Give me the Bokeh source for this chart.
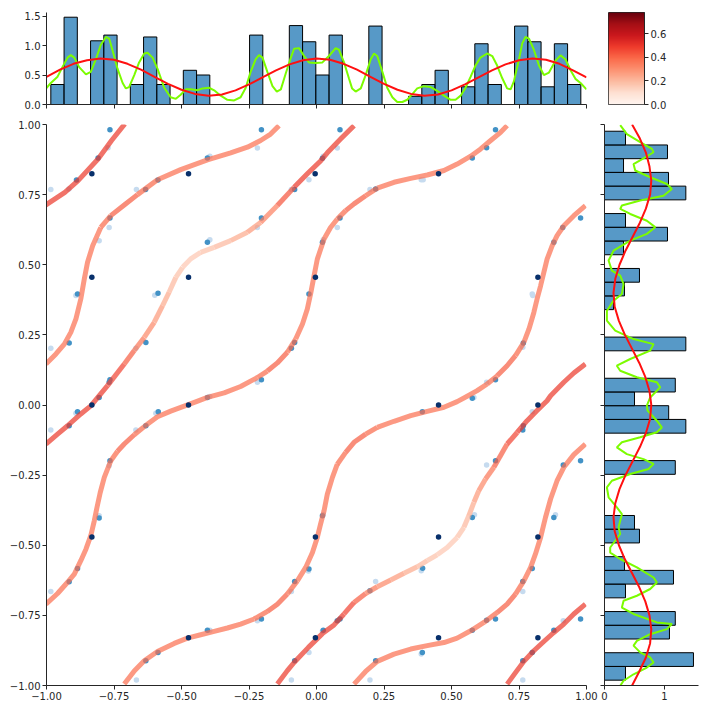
import numpy as np
from bokeh.plotting import figure
from bokeh.layouts import column, row
from bokeh.models import ColumnDataSource, LinearColorMapper, FixedTicker, CustomJSTickFormatter
from bokeh.palettes import Reds256
from bokeh.embed import file_html
from bokeh.resources import INLINE

# ---------------- data ----------------
# top marginal histogram (density), 40 bins between these limits
top_bin_lo, top_bin_hi = -0.984, 0.979
top_hist = [0.339, 1.48, 0, 1.08, 1.177, 0, 0.339, 1.145, 0.339, 0, 0.58, 0.5, 0, 0, 0, 1.177, 0, 0,
            1.338, 1.064, 0.5, 1.177, 0, 0, 1.33, 0, 0, 0.139, 0.339, 0.58, 0, 0.30, 1.03, 0.339, 0,
            1.33, 1.064, 0.30, 1.03, 0.339]
# right marginal histogram (density), bottom to top
right_bin_lo, right_bin_hi = -0.981, 0.976
right_hist = [0.35, 1.483, 0, 1.083, 1.18, 0, 0.35, 1.15, 0.333, 0, 0.583, 0.5, 0, 0, 0, 1.18, 0, 0,
              1.356, 1.07, 0.5, 1.18, 0, 0, 1.356, 0, 0, 0.15, 0.333, 0.583, 0, 0.317, 1.05, 0.35, 0,
              1.356, 1.067, 0.317, 1.05, 0.35]

# wide KDE (red)
red_pos = [-1.00, -0.95, -0.90, -0.85, -0.80, -0.75, -0.70, -0.65, -0.60, -0.55, -0.50, -0.45, -0.40,
           -0.35, -0.30, -0.25, -0.20, -0.15, -0.10, -0.05, 0.00, 0.05, 0.10, 0.15, 0.20, 0.25, 0.30,
           0.35, 0.40, 0.45, 0.50, 0.55, 0.60, 0.65, 0.70, 0.75, 0.80, 0.85, 0.90, 0.95, 1.00]
red_top = [0.47, 0.59, 0.69, 0.75, 0.78, 0.76, 0.69, 0.59, 0.47, 0.35, 0.25, 0.18, 0.15, 0.17, 0.24,
           0.34, 0.46, 0.58, 0.68, 0.75, 0.78, 0.76, 0.69, 0.59, 0.47, 0.35, 0.25, 0.18, 0.15, 0.17,
           0.24, 0.34, 0.46, 0.58, 0.68, 0.75, 0.78, 0.76, 0.69, 0.58, 0.46]
red_right = [0.46, 0.58, 0.69, 0.76, 0.78, 0.75, 0.68, 0.58, 0.46, 0.34, 0.24, 0.17, 0.15, 0.18, 0.25,
             0.35, 0.47, 0.59, 0.69, 0.76, 0.78, 0.75, 0.68, 0.58, 0.46, 0.34, 0.24, 0.17, 0.15, 0.18,
             0.25, 0.35, 0.47, 0.59, 0.69, 0.76, 0.78, 0.75, 0.69, 0.59, 0.46]

# narrow KDE (green), top marginal
green_top_x = [-1.001, -0.984, -0.959, -0.941, -0.922, -0.910, -0.897, -0.879, -0.854, -0.836, -0.817,
               -0.799, -0.780, -0.768, -0.756, -0.737, -0.718, -0.706, -0.694, -0.675, -0.657, -0.638,
               -0.626, -0.607, -0.589, -0.564, -0.540, -0.521, -0.503, -0.484, -0.466, -0.441, -0.422,
               -0.398, -0.379, -0.355, -0.330, -0.305, -0.281, -0.262, -0.244, -0.225, -0.213, -0.200,
               -0.182, -0.163, -0.147, -0.132, -0.114, -0.095, -0.083, -0.065, -0.046, -0.028, -0.003,
               0.022, 0.046, 0.071, 0.083, 0.102, 0.120, 0.132, 0.145, 0.164, 0.182, 0.201, 0.213,
               0.225, 0.244, 0.262, 0.281, 0.299, 0.318, 0.336, 0.355, 0.373, 0.398, 0.423, 0.447,
               0.472, 0.497, 0.515, 0.534, 0.552, 0.571, 0.589, 0.607, 0.632, 0.651, 0.669, 0.688,
               0.706, 0.719, 0.731, 0.750, 0.762, 0.774, 0.787, 0.805, 0.824, 0.842, 0.861, 0.885,
               0.904, 0.922, 0.941, 0.959, 0.978, 1.000]
green_top_v = [0.273, 0.365, 0.472, 0.634, 0.795, 0.838, 0.795, 0.634, 0.510, 0.553, 0.768,
               1.010, 1.145, 1.118, 0.929, 0.607, 0.365, 0.273, 0.295, 0.499, 0.714, 0.865,
               0.876, 0.795, 0.607, 0.284, 0.123, 0.096, 0.166, 0.257, 0.257, 0.241, 0.273,
               0.284, 0.241, 0.150, 0.080, 0.069, 0.123, 0.284, 0.553, 0.768, 0.838, 0.795,
               0.553, 0.311, 0.220, 0.257, 0.526, 0.795, 0.945, 0.956, 0.822, 0.714, 0.703,
               0.714, 0.822, 0.956, 0.929, 0.714, 0.445, 0.270, 0.220, 0.273, 0.499, 0.768, 0.865,
               0.822, 0.553, 0.284, 0.123, 0.042, 0.042, 0.080, 0.177, 0.273, 0.311, 0.295, 0.230,
               0.150, 0.080, 0.080, 0.150, 0.284, 0.472, 0.661, 0.795, 0.865, 0.822, 0.661, 0.445,
               0.273, 0.257, 0.392, 0.768, 1.037, 1.145, 1.118, 0.929, 0.661, 0.499, 0.542, 0.741,
               0.833, 0.768, 0.580, 0.435, 0.365, 0.257]

# narrow KDE (green), right marginal (top to bottom)
green_right_y = [0.998, 0.966, 0.937, 0.913, 0.901, 0.883, 0.859, 0.836, 0.812, 0.788, 0.770, 0.746,
                 0.729, 0.711, 0.699, 0.681, 0.657, 0.634, 0.610, 0.586, 0.550, 0.515, 0.479, 0.461,
                 0.431, 0.396, 0.372, 0.336, 0.301, 0.265, 0.235, 0.217, 0.194, 0.164, 0.140, 0.122,
                 0.099, 0.081, 0.063, 0.027, -0.002, -0.020, -0.056, -0.080, -0.097, -0.115, -0.133,
                 -0.151, -0.175, -0.193, -0.210, -0.228, -0.246, -0.270, -0.294, -0.329, -0.365,
                 -0.389, -0.413, -0.436, -0.460, -0.484, -0.508, -0.526, -0.549, -0.579, -0.615,
                 -0.633, -0.656, -0.680, -0.698, -0.722, -0.745, -0.775, -0.781, -0.799, -0.817,
                 -0.841, -0.858, -0.882, -0.900, -0.918, -0.936, -0.960, -0.983, -1.001]
green_right_v = [0.262, 0.373, 0.595, 0.790, 0.818, 0.679, 0.484, 0.512, 0.762, 1.040, 1.123, 0.984,
                 0.595, 0.290, 0.262, 0.429, 0.706, 0.845, 0.706, 0.429, 0.151, 0.068, 0.123, 0.262,
                 0.318, 0.290, 0.151, 0.040, 0.040, 0.179, 0.484, 0.818, 0.762, 0.429, 0.206, 0.262,
                 0.540, 0.873, 0.929, 0.762, 0.706, 0.718, 0.873, 0.956, 0.873, 0.595, 0.290,
                 0.206, 0.373, 0.651, 0.818, 0.734, 0.429, 0.123, 0.040, 0.068, 0.206,
                 0.290, 0.262, 0.234, 0.262, 0.179, 0.095, 0.095, 0.262, 0.540, 0.818,
                 0.873, 0.762, 0.540, 0.318, 0.290, 0.484, 0.873, 1.123, 1.040, 0.762,
                 0.540, 0.484, 0.595, 0.762, 0.818, 0.706, 0.484, 0.318, 0.262]

# scatter points: x, y, shade (0 light, 1 medium, 2 dark)
pts_x = [-0.765, -0.772, -0.809, -0.889, -0.832, -0.917, -0.984,
         -0.765, -0.768, -0.805, -0.885, -0.891, -0.832, -0.916, -0.984,
         -0.765, -0.768, -0.805, -0.885, -0.891, -0.916, -0.984, -0.832,
         -0.765, -0.768, -0.805, -0.805, -0.832, -0.885, -0.916, -0.984,
         -0.667, -0.633, -0.587, -0.474, -0.404, -0.395, -0.219, -0.204,
         -0.404, -0.395, -0.204, -0.219, -0.474, -0.587, -0.599, -0.632, -0.669,
         -0.404, -0.395, -0.474, -0.586, -0.595, -0.632, -0.669, -0.204, -0.219,
         -0.404, -0.395, -0.474, -0.587, -0.632, -0.667, -0.204, -0.219,
         -0.093, -0.081, -0.028, -0.005, 0.022, 0.025, 0.087, 0.077,
         -0.093, -0.081, -0.028, -0.004, 0.022, 0.025, 0.087, 0.077,
         0.022, 0.025, -0.004, -0.028, -0.030, -0.081, -0.093,
         0.087, 0.077, 0.025, 0.022, -0.004, -0.028, -0.081, -0.093,
         0.663, 0.630, 0.577, 0.452, 0.388, 0.395, 0.198, 0.219,
         0.978, 0.912, 0.879, 0.820, 0.799, 0.801, 0.764, 0.766,
         0.663, 0.630, 0.583, 0.577, 0.452, 0.392,
         0.764, 0.766, 0.799, 0.820,
         0.577, 0.585, 0.630, 0.663, 0.452, 0.393, 0.388, 0.198, 0.219,
         0.879, 0.885, 0.914, 0.978, 0.820, 0.799, 0.764, 0.764,
         0.663, 0.630, 0.577, 0.452, 0.392, 0.388, 0.219, 0.198,
         0.978, 0.914, 0.879, 0.820, 0.799, 0.764, 0.764]
pts_y = [0.981, 0.917, 0.881, 0.802, 0.824, 0.770, 0.768,
         0.667, 0.633, 0.586, 0.396, 0.390, 0.455, 0.221, 0.202,
         0.090, 0.081, 0.027, -0.024, -0.029, -0.074, -0.089, 0.0,
         -0.199, -0.217, -0.395, -0.403, -0.471, -0.583, -0.630, -0.665,
         0.768, 0.768, 0.802, 0.824, 0.881, 0.887, 0.916, 0.981,
         0.580, 0.589, 0.667, 0.633, 0.455, 0.398, 0.391, 0.223, 0.202,
         0.027, 0.030, 0.0, -0.024, -0.029, -0.074, -0.089, 0.090, 0.081,
         -0.803, -0.803, -0.830, -0.882, -0.912, -0.980, -0.763, -0.769,
         0.768, 0.768, 0.803, 0.824, 0.880, 0.887, 0.981, 0.916,
         0.202, 0.223, 0.396, 0.455, 0.580, 0.589, 0.667, 0.633,
         -0.395, -0.391, -0.471, -0.585, -0.592, -0.629, -0.665,
         -0.763, -0.769, -0.803, -0.806, -0.830, -0.882, -0.912, -0.980,
         0.981, 0.917, 0.881, 0.824, 0.803, 0.803, 0.768, 0.770,
         0.667, 0.633, 0.580, 0.455, 0.396, 0.390, 0.206, 0.221,
         0.090, 0.081, 0.027, 0.024, 0.0, -0.024,
         -0.089, -0.074, -0.024, 0.0,
         -0.401, -0.391, -0.214, -0.199, -0.471, -0.582, -0.591, -0.662, -0.629,
         -0.401, -0.391, -0.214, -0.199, -0.471, -0.583, -0.629, -0.665,
         -0.763, -0.767, -0.803, -0.830, -0.882, -0.888, -0.912, -0.980,
         -0.763, -0.769, -0.803, -0.830, -0.882, -0.912, -0.980]
pts_shade = [1, 0, 1, 1, 2, 0, 0,
             1, 0, 0, 1, 0, 2, 1, 0,
             1, 1, 1, 1, 0, 1, 0, 2,
             1, 0, 0, 1, 2, 1, 1, 0,
             0, 1, 1, 2, 1, 0, 0, 1,
             1, 0, 1, 0, 2, 1, 0, 1, 0,
             1, 0, 2, 1, 0, 1, 0, 1, 0,
             1, 0, 2, 1, 1, 0, 1, 0,
             0, 1, 0, 2, 1, 0, 1, 0,
             1, 1, 1, 2, 1, 0, 1, 0,
             1, 0, 2, 1, 0, 1, 0,
             1, 1, 1, 0, 2, 0, 1, 0,
             1, 1, 1, 2, 0, 0, 0, 1,
             1, 1, 1, 2, 0, 0, 0, 1,
             1, 0, 0, 1, 2, 1,
             1, 1, 0, 2,
             1, 0, 0, 1, 2, 1, 0, 1, 0,
             1, 0, 1, 1, 2, 1, 1, 0,
             1, 1, 1, 2, 1, 0, 1, 0,
             1, 0, 1, 2, 1, 1, 0]

# thick curves: x, y and colour value per vertex
curve1_x = [-1.006, -0.932, -0.883, -0.809, -0.759, -0.710]
curve1_y = [0.711, 0.758, 0.800, 0.877, 0.943, 1.002]
curve1_v = [0.50, 0.50, 0.50, 0.50, 0.50, 0.50]

curve2_x = [-1.002, -0.965, -0.934, -0.910, -0.891, -0.873, -0.860, -0.848, -0.829, -0.799, -0.762,
            -0.712, -0.663, -0.589, -0.503, -0.404, -0.318, -0.256, -0.207, -0.170, -0.139]
curve2_y = [0.146, 0.182, 0.217, 0.259, 0.307, 0.378, 0.449, 0.509, 0.568, 0.633, 0.675,
            0.713, 0.750, 0.803, 0.839, 0.874, 0.899, 0.919, 0.943, 0.966, 0.996]
curve2_v = [0.38, 0.38, 0.38, 0.38, 0.38, 0.38, 0.38, 0.38, 0.38, 0.38, 0.41,
            0.43, 0.41, 0.38, 0.38, 0.38, 0.38, 0.38, 0.38, 0.38, 0.38]

curve3_x = [-0.145, -0.108, -0.083, -0.030, 0.022, 0.065, 0.102, 0.139, 0.182, 0.225, 0.275, 0.324,
            0.373, 0.410, 0.447, 0.484, 0.521, 0.546, 0.564, 0.583, 0.601, 0.626, 0.657, 0.706,
            0.743, 0.780, 0.817, 0.854, 0.867, 0.916, 0.953, 0.996]
curve3_y = [-0.995, -0.947, -0.918, -0.864, -0.815, -0.784, -0.745, -0.704, -0.672, -0.648, -0.624,
            -0.600, -0.577, -0.555, -0.534, -0.508, -0.472, -0.436, -0.395, -0.347, -0.306, -0.264,
            -0.222, -0.139, -0.098, -0.056, -0.020, 0.015, 0.033, 0.081, 0.114, 0.146]
curve3_v = [0.50, 0.50, 0.50, 0.50, 0.50, 0.50, 0.50, 0.45, 0.38, 0.34, 0.30, 0.26,
            0.22, 0.19, 0.17, 0.16, 0.17, 0.19, 0.22, 0.26, 0.30, 0.34, 0.39, 0.45,
            0.50, 0.50, 0.50, 0.50, 0.50, 0.50, 0.50, 0.50]

curve4_x = [-1.002, -0.959, -0.922, -0.873, -0.836, -0.774, -0.712, -0.675, -0.638, -0.601, -0.570,
            -0.546, -0.521, -0.496, -0.466, -0.429, -0.379, -0.318, -0.256, -0.207, -0.145, -0.083,
            -0.034, 0.016, 0.040, 0.090, 0.139]
curve4_y = [-0.139, -0.104, -0.074, -0.032, -0.003, 0.069, 0.146, 0.194, 0.241, 0.295, 0.354,
            0.402, 0.455, 0.491, 0.521, 0.544, 0.562, 0.586, 0.616, 0.651, 0.711, 0.776,
            0.824, 0.871, 0.899, 0.949, 0.996]
curve4_v = [0.50, 0.50, 0.50, 0.50, 0.50, 0.50, 0.45, 0.39, 0.34, 0.30, 0.26,
            0.22, 0.19, 0.17, 0.16, 0.17, 0.19, 0.22, 0.26, 0.30, 0.38, 0.50,
            0.50, 0.50, 0.50, 0.50, 0.50]

curve5_x = [0.139, 0.182, 0.225, 0.287, 0.349, 0.410, 0.472, 0.521, 0.571, 0.620, 0.669, 0.706,
            0.737, 0.768, 0.793, 0.811, 0.830, 0.848, 0.867, 0.891, 0.916, 0.953, 0.996]
curve5_y = [-0.995, -0.950, -0.914, -0.888, -0.870, -0.858, -0.847, -0.831, -0.805, -0.775, -0.740,
            -0.710, -0.674, -0.627, -0.579, -0.531, -0.472, -0.401, -0.335, -0.270, -0.222, -0.177,
            -0.139]
curve5_v = [0.38, 0.38, 0.38, 0.38, 0.38, 0.38, 0.38, 0.38, 0.38, 0.38, 0.41, 0.43,
            0.41, 0.38, 0.38, 0.38, 0.38, 0.38, 0.38, 0.38, 0.38, 0.38, 0.38]

curve6_x = [-1.002, -0.959, -0.922, -0.897, -0.873, -0.854, -0.836, -0.823, -0.813, -0.801, -0.786,
            -0.762, -0.737, -0.712, -0.675, -0.638, -0.589, -0.540, -0.490, -0.445, -0.404, -0.342,
            -0.281, -0.219, -0.182, -0.145, -0.108, -0.077, -0.052, -0.034, -0.021, -0.009, 0.003,
            0.028, 0.052, 0.077, 0.108, 0.139, 0.182, 0.225, 0.287, 0.349, 0.410, 0.472, 0.521,
            0.571, 0.608, 0.645, 0.682, 0.706]
curve6_y = [-0.710, -0.672, -0.632, -0.603, -0.555, -0.514, -0.466, -0.413, -0.365, -0.312, -0.258,
            -0.199, -0.165, -0.139, -0.106, -0.077, -0.042, -0.022, -0.004, 0.012, 0.027, 0.043,
            0.066, 0.098, 0.121, 0.150, 0.188, 0.235, 0.289, 0.342, 0.400, 0.461, 0.520,
            0.592, 0.633, 0.663, 0.693, 0.717, 0.746, 0.773, 0.794, 0.808, 0.820, 0.836, 0.859,
            0.887, 0.913, 0.943, 0.972, 0.996]
curve6_v = [0.38, 0.38, 0.38, 0.38, 0.38, 0.38, 0.38, 0.38, 0.38, 0.38, 0.38,
            0.38, 0.41, 0.43, 0.41, 0.38, 0.38, 0.38, 0.38, 0.38, 0.38, 0.38,
            0.38, 0.38, 0.41, 0.43, 0.41, 0.38, 0.38, 0.38, 0.38, 0.38, 0.38,
            0.38, 0.38, 0.38, 0.41, 0.43, 0.41, 0.38, 0.38, 0.38, 0.38, 0.38, 0.38,
            0.38, 0.38, 0.38, 0.38, 0.38]

curve7_x = [0.706, 0.737, 0.768, 0.805, 0.842, 0.879, 0.916, 0.953, 0.996]
curve7_y = [-0.995, -0.954, -0.914, -0.876, -0.843, -0.811, -0.781, -0.745, -0.710]
curve7_v = [0.50, 0.50, 0.50, 0.50, 0.50, 0.50, 0.50, 0.50, 0.50]

curve8_x = [-0.712, -0.675, -0.638, -0.589, -0.527, -0.478, -0.429, -0.379, -0.330, -0.281, -0.231,
            -0.182, -0.145, -0.108, -0.071, -0.040, -0.015, 0.003, 0.015, 0.028, 0.040, 0.059,
            0.077, 0.108, 0.139, 0.182, 0.225, 0.287, 0.349, 0.410, 0.472, 0.521, 0.558, 0.595,
            0.632, 0.669, 0.706, 0.737, 0.768, 0.787, 0.805, 0.817, 0.830, 0.842, 0.854, 0.873,
            0.891, 0.916, 0.953, 0.996]
curve8_y = [-0.995, -0.948, -0.912, -0.879, -0.850, -0.831, -0.819, -0.807, -0.795, -0.781, -0.763,
            -0.736, -0.710, -0.674, -0.627, -0.579, -0.526, -0.472, -0.425, -0.377, -0.318, -0.258,
            -0.211, -0.169, -0.133, -0.104, -0.080, -0.058, -0.038, -0.023, -0.008, 0.012, 0.031,
            0.051, 0.075, 0.104, 0.140, 0.176, 0.223, 0.271, 0.330, 0.378, 0.425, 0.473, 0.520,
            0.568, 0.604, 0.639, 0.675, 0.711]
curve8_v = [0.38, 0.38, 0.38, 0.38, 0.38, 0.38, 0.38, 0.38, 0.38, 0.38, 0.38,
            0.41, 0.43, 0.41, 0.38, 0.38, 0.38, 0.38, 0.38, 0.38, 0.38, 0.38,
            0.38, 0.41, 0.43, 0.41, 0.38, 0.38, 0.38, 0.38, 0.38, 0.38, 0.38, 0.38,
            0.38, 0.41, 0.43, 0.41, 0.38, 0.38, 0.38, 0.38, 0.38, 0.38, 0.38, 0.38,
            0.38, 0.38, 0.38, 0.38]

curves = [(curve1_x, curve1_y, curve1_v), (curve2_x, curve2_y, curve2_v),
          (curve3_x, curve3_y, curve3_v), (curve4_x, curve4_y, curve4_v),
          (curve5_x, curve5_y, curve5_v), (curve6_x, curve6_y, curve6_v),
          (curve7_x, curve7_y, curve7_v), (curve8_x, curve8_y, curve8_v)]

main_ticks = [-1.0, -0.75, -0.5, -0.25, 0.0, 0.25, 0.5, 0.75, 1.0]
top_ticks = [0.0, 0.5, 1.0, 1.5]
right_ticks = [0, 1]
cbar_ticks = [0.0, 0.2, 0.4, 0.6]
cbar_max = 0.781

# ---------------- styling ----------------
FONT = "DejaVu Sans"
TXT = "#262626"
shade_colors = ["#c6dbef", "#4292c6", "#08306b"]
mapper = LinearColorMapper(palette=list(Reds256[::-1]), low=0.0, high=cbar_max)


def fmt(d):
    return CustomJSTickFormatter(code="return tick.toFixed(%d).replace('-', '\\u2212');" % d)


def style(p):
    p.outline_line_color = None
    p.grid.visible = False
    p.background_fill_color = "white"
    p.border_fill_color = "white"
    for ax in p.axis:
        ax.axis_line_color = TXT
        ax.axis_line_width = 1
        ax.major_tick_line_color = TXT
        ax.major_tick_line_width = 1
        ax.minor_tick_line_color = None
        ax.major_tick_out = 4
        ax.major_tick_in = 0
        ax.major_label_text_font = FONT
        ax.major_label_text_font_size = "10px"
        ax.major_label_text_color = TXT
        ax.major_label_standoff = 2


def ticks_only(ax, ticks):
    # tick marks without labels: use minor ticks of a ticker that has no major ticks
    ax.ticker = FixedTicker(ticks=[], minor_ticks=ticks)
    ax.minor_tick_line_color = TXT
    ax.minor_tick_line_width = 1
    ax.minor_tick_out = 4
    ax.minor_tick_in = 0


# ---------------- main panel ----------------
main = figure(width=600, height=591, x_range=(-1, 1), y_range=(-1, 1),
              output_backend="svg", toolbar_location=None,
              min_border_left=46, min_border_right=14, min_border_top=6, min_border_bottom=24)
style(main)
for ax in (main.xaxis[0], main.yaxis[0]):
    ax.ticker = FixedTicker(ticks=main_ticks)
    ax.formatter = fmt(2)

px = np.array(pts_x)
py = np.array(pts_y)
ps = np.array(pts_shade)
for s in (0, 1):
    m = ps == s
    main.scatter(px[m], py[m], size=5.5, fill_color=shade_colors[s], line_color=None)


def pieces(xs, ys, vs):
    ox, oy, ov = [], [], []
    cx, cy = [xs[0]], [ys[0]]
    cv = None
    for i in range(len(xs) - 1):
        sv = round((vs[i] + vs[i + 1]) / 2.0, 3)
        if cv is None:
            cv = sv
        if sv != cv:
            ox.append(cx); oy.append(cy); ov.append(cv)
            cx, cy = [xs[i]], [ys[i]]
            cv = sv
        cx.append(xs[i + 1]); cy.append(ys[i + 1])
    ox.append(cx); oy.append(cy); ov.append(cv)
    return ox, oy, ov


all_x, all_y, all_v = [], [], []
for cx_, cy_, cv_ in curves:
    a, b, c = pieces(cx_, cy_, cv_)
    all_x += a; all_y += b; all_v += c
line_src = ColumnDataSource(dict(xs=all_x, ys=all_y, v=all_v))
main.multi_line(xs="xs", ys="ys", source=line_src, line_color={"field": "v", "transform": mapper},
                line_width=5, line_alpha=0.7, line_join="round", line_cap="butt")

m = ps == 2
main.scatter(px[m], py[m], size=5.5, fill_color=shade_colors[2], line_color=None)

# ---------------- top marginal ----------------
top = figure(width=600, height=118, x_range=main.x_range, y_range=(0, 1.56),
             output_backend="svg", toolbar_location=None,
             min_border_left=46, min_border_right=14, min_border_top=7, min_border_bottom=14)
style(top)
ticks_only(top.xaxis[0], main_ticks)
top.yaxis.ticker = FixedTicker(ticks=top_ticks)
top.yaxis.formatter = fmt(1)
te = np.linspace(top_bin_lo, top_bin_hi, len(top_hist) + 1)
th = np.array(top_hist)
k = th > 0
top.quad(left=te[:-1][k], right=te[1:][k], bottom=0, top=th[k],
         fill_color="#1f77b4", fill_alpha=0.75, line_color="black", line_width=1)
top.line(green_top_x, green_top_v, line_color="#7cfc00", line_width=2)
top.line(red_pos, red_top, line_color="#ff1010", line_width=2)

# ---------------- right marginal ----------------
right = figure(width=102, height=591, x_range=(0, 1.567), y_range=main.y_range,
               output_backend="svg", toolbar_location=None,
               min_border_left=4, min_border_right=4, min_border_top=6, min_border_bottom=24)
style(right)
ticks_only(right.yaxis[0], main_ticks)
right.xaxis.ticker = FixedTicker(ticks=right_ticks)
right.xaxis.formatter = fmt(0)
re_ = np.linspace(right_bin_lo, right_bin_hi, len(right_hist) + 1)
rh = np.array(right_hist)
k = rh > 0
right.quad(left=0, right=rh[k], bottom=re_[:-1][k], top=re_[1:][k],
           fill_color="#1f77b4", fill_alpha=0.75, line_color="black", line_width=1)
right.line(green_right_v, green_right_y, line_color="#7cfc00", line_width=2)
right.line(red_right, red_pos, line_color="#ff1010", line_width=2)

# ---------------- colour bar ----------------
cb = figure(width=102, height=118, x_range=(0, 1), y_range=(0, cbar_max),
            output_backend="svg", toolbar_location=None,
            x_axis_location=None, y_axis_location="right",
            min_border_left=8, min_border_right=58, min_border_top=12, min_border_bottom=13)
style(cb)
cb.outline_line_color = TXT
cb.outline_line_width = 1
cb.yaxis.ticker = FixedTicker(ticks=cbar_ticks)
cb.yaxis.formatter = fmt(1)
grad = np.linspace(0, cbar_max, 256).reshape(256, 1)
cb.image(image=[grad], x=0, y=0, dw=1, dh=cbar_max, color_mapper=mapper)

layout = column(row(top, cb), row(main, right))
open("out.html", "w", encoding="utf-8").write(file_html(layout, INLINE))
